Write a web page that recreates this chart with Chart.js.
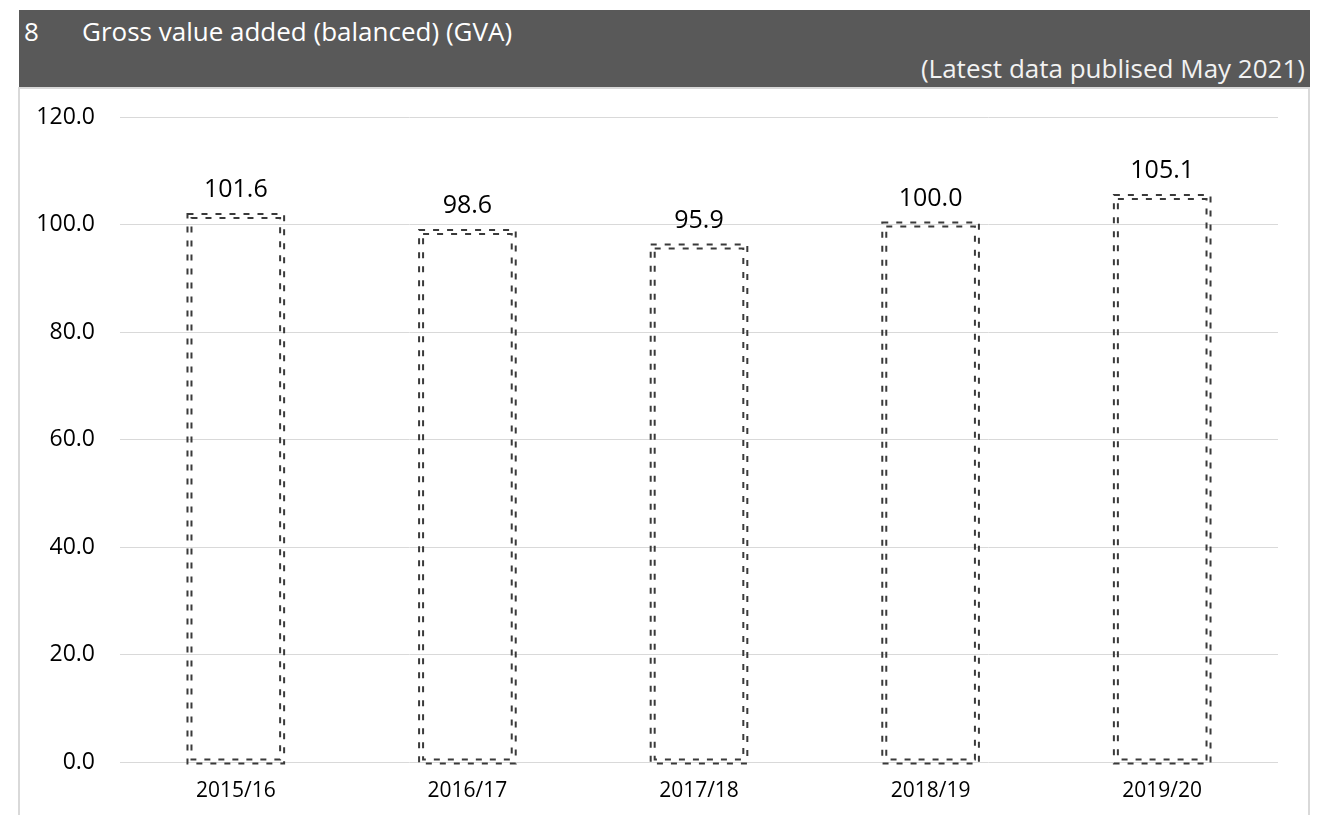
<!DOCTYPE html>
<html>
<head>
<meta charset="utf-8">
<script src="https://cdn.jsdelivr.net/npm/chart.js@4"></script>
<style>
    body { margin: 0; background: #fff; font-family: "Open Sans", sans-serif; overflow: hidden; }
    #header {
        position: absolute; left: 19px; top: 10px; width: 1291px; height: 77px;
        background: #595959; color: #fff; line-height: normal;
    }
    #num { position: absolute; left: 5px; top: 3px; font-size: 26px; }
    #title { position: absolute; left: 63px; top: 3px; font-size: 26px; }
    #sub { position: absolute; right: 5px; top: 40px; font-size: 26px; color: #f2f2f2; }
    #box {
        position: absolute; left: 18px; top: 87px; width: 1288px; height: 760px;
        border: 2px solid #d9d9d9;
    }
    #wrap { position: absolute; left: 0; top: 0; width: 1333px; height: 815px; }
</style>
</head>
<body>
<div id="box"></div>
<div id="header">
    <span id="num">8</span>
    <span id="title">Gross value added (balanced) (GVA)</span>
    <span id="sub">(Latest data publised May 2021)</span>
</div>
<div id="wrap"><canvas id="chart"></canvas></div>
<script>
const years = ['2015/16', '2016/17', '2017/18', '2018/19', '2019/20'];
const gva = [101.6, 98.6, 95.9, 100.0, 105.1];
const yTicks = [0, 20, 40, 60, 80, 100, 120];

// double dashed outline + value label on each bar
const outlineBars = {
    id: 'outlineBars',
    afterDatasetsDraw(chart) {
        const ctx = chart.ctx;
        const meta = chart.getDatasetMeta(0);
        meta.data.forEach((bar, i) => {
            const p = bar.getProps(['x', 'y', 'base', 'width'], true);
            const left = p.x - p.width / 2;
            const right = p.x + p.width / 2;
            ctx.save();
            ctx.strokeStyle = '#3a3a3a';
            ctx.lineWidth = 2;
            ctx.setLineDash([6, 8]);
            [-2, 2].forEach(off => {
                ctx.strokeRect(left - off, p.y - off, (right - left) + off * 2, (p.base - p.y) + off * 2);
            });
            ctx.restore();

            ctx.save();
            ctx.fillStyle = '#000';
            ctx.font = '25px "Open Sans"';
            ctx.textAlign = 'center';
            ctx.textBaseline = 'middle';
            ctx.fillText(gva[i].toFixed(1), p.x, p.y - 26);
            ctx.restore();
        });
    }
};

new Chart(document.getElementById('chart'), {
    type: 'bar',
    data: {
        labels: years,
        datasets: [{
            data: gva,
            backgroundColor: 'rgba(0,0,0,0)',
            borderWidth: 0,
            barPercentage: 0.40,
            categoryPercentage: 1
        }]
    },
    options: {
        responsive: true,
        maintainAspectRatio: false,
        animation: false,
        layout: {padding: {left: 0, right: 55, top: 117, bottom: 13}},
        plugins: {legend: {display: false}, tooltip: {enabled: false}},
        scales: {
            x: {
                grid: {display: false},
                border: {display: false},
                ticks: {color: '#000', font: {family: 'Open Sans', size: 21}, padding: 8},
                afterFit: s => { s.height = 40; }
            },
            y: {
                min: 0,
                max: 120,
                afterBuildTicks: s => { s.ticks = yTicks.map(v => ({value: v})); },
                grid: {color: '#d9d9d9', lineWidth: 1, drawTicks: false},
                border: {display: false},
                ticks: {
                    color: '#000',
                    font: {family: 'Open Sans', size: 23},
                    padding: 25,
                    callback: v => v.toFixed(1)
                },
                afterFit: s => { s.width = 120; }
            }
        }
    },
    plugins: [outlineBars]
});
</script>
</body>
</html>
